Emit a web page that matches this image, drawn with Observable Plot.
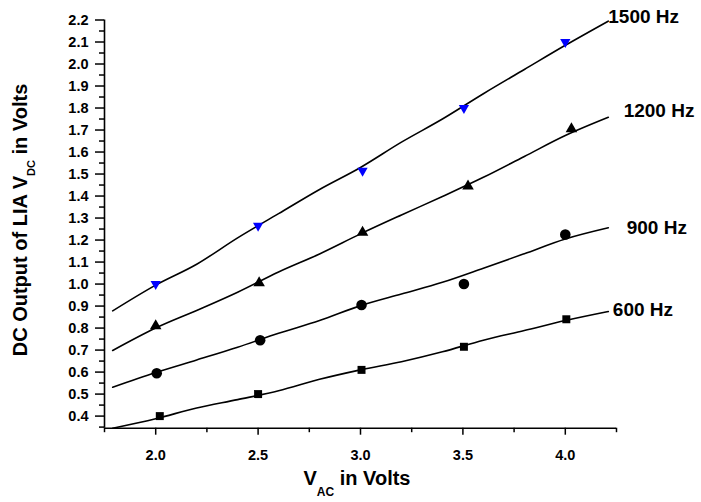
<!DOCTYPE html>
<html>
<head>
<meta charset="utf-8">
<script src="https://cdn.jsdelivr.net/npm/d3@7"></script>
<script src="https://cdn.jsdelivr.net/npm/@observablehq/plot@0.6"></script>
<style>
  html, body { margin: 0; padding: 0; background: #fff; }
  #chart svg { display: block; overflow: visible; }
</style>
</head>
<body>
<div id="chart"></div>
<script>
// ---------- data ----------
const seriesNames = ["1500 Hz", "1200 Hz", "900 Hz", "600 Hz"];

// measured points (markers)
const x1500 = [2.0, 2.5, 3.01, 3.505, 4.0];
const y1500 = [1.0, 1.265, 1.515, 1.80, 2.10];
const x1200 = [2.0, 2.505, 3.01, 3.525, 4.03];
const y1200 = [0.81, 1.005, 1.235, 1.445, 1.705];
const x900  = [2.005, 2.51, 3.005, 3.505, 4.0];
const y900  = [0.595, 0.745, 0.905, 1.0, 1.225];
const x600  = [2.02, 2.5, 3.005, 3.505, 4.005];
const y600  = [0.40, 0.50, 0.61, 0.715, 0.84];

// fitted curves (black lines)
const fitX    = [1.79, 2.0, 2.2, 2.4, 2.6, 2.8, 3.0, 3.2, 3.4, 3.6, 3.8, 4.0, 4.21];
const fit1500 = [0.878, 0.995, 1.09, 1.21, 1.32, 1.43, 1.53, 1.645, 1.75, 1.865, 1.975, 2.085, 2.195];
const fit1200 = [0.698, 0.80, 0.88, 0.963, 1.055, 1.137, 1.228, 1.314, 1.398, 1.485, 1.58, 1.675, 1.758];
const fit900  = [0.531, 0.598, 0.655, 0.713, 0.776, 0.834, 0.902, 0.955, 1.008, 1.072, 1.138, 1.205, 1.256];
const fit600  = [0.345, 0.388, 0.437, 0.475, 0.515, 0.567, 0.61, 0.647, 0.692, 0.745, 0.789, 0.834, 0.875];

// curve label anchors (data units)
const labelX = [4.21, 4.285, 4.30, 4.232];
const labelY = [2.212, 1.789, 1.257, 0.883];

// axes
const xTicks = [2.0, 2.5, 3.0, 3.5, 4.0];
const yTicks = [0.4, 0.5, 0.6, 0.7, 0.8, 0.9, 1.0, 1.1, 1.2, 1.3, 1.4, 1.5, 1.6, 1.7, 1.8, 1.9, 2.0, 2.1, 2.2];
const xDomain = [1.75, 4.25];
const yDomain = [0.345, 2.2];
const xTitleMain = "V", xTitleSub = "AC", xTitleRest = " in Volts";
const yTitleMain = "DC Output of LIA V", yTitleSub = "DC", yTitleRest = " in Volts";

// ---------- tables ----------
const pts = (xs, ys) => xs.map((x, i) => ({x, y: ys[i]}));
const fitTable = [fit1500, fit1200, fit900, fit600].flatMap((ys, k) =>
  fitX.map((x, i) => ({x, y: ys[i], s: seriesNames[k]})));
const labels = seriesNames.map((t, i) => ({x: labelX[i], y: labelY[i], t}));
const xMinor = d3.range(1.75, 4.26, 0.25).filter(v => !xTicks.some(t => Math.abs(t - v) < 1e-6));
const yMinor = d3.range(0.35, 2.2, 0.1);

const font = "'Liberation Sans', Arial, Helvetica, sans-serif";

const chart = Plot.plot({
  width: 701,
  height: 502,
  marginLeft: 104,
  marginRight: 85,
  marginTop: 19.5,
  marginBottom: 74.3,
  x: {domain: xDomain},
  y: {domain: yDomain},
  style: {fontFamily: font, fontWeight: "bold", background: "#fff", color: "#000", overflow: "visible"},
  marks: [
    Plot.axisY({ticks: yTicks, tickSize: 9, tickPadding: 7, tickFormat: d3.format(".1f"), fontSize: 14.5, fontWeight: "bold", strokeWidth: 1.5, label: null}),
    Plot.axisY({ticks: yMinor, tickSize: 5, tickFormat: () => "", strokeWidth: 1.5, label: null}),
    Plot.axisX({ticks: xTicks, tickSize: 7, tickPadding: 15, tickFormat: d3.format(".1f"), fontSize: 14.5, fontWeight: "bold", strokeWidth: 1.5, label: null}),
    Plot.axisX({ticks: xMinor, tickSize: 4.5, tickFormat: () => "", strokeWidth: 1.5, label: null}),
    Plot.ruleX([xDomain[0]], {y1: yDomain[0], y2: yDomain[1], strokeWidth: 1.6}),
    Plot.ruleY([yDomain[0]], {x1: xDomain[0], x2: xDomain[1], strokeWidth: 1.6}),
    Plot.line(fitTable, {x: "x", y: "y", z: "s", stroke: "#000", strokeWidth: 1.6, curve: "monotone-x"}),
    Plot.dot(pts(x600, y600), {x: "x", y: "y", symbol: "square", r: 4.5, fill: "#000"}),
    Plot.dot(pts(x900, y900), {x: "x", y: "y", symbol: "circle", r: 5.3, fill: "#000"}),
    Plot.dot(pts(x1200, y1200), {x: "x", y: "y", symbol: "triangle", r: 4.3, fill: "#000"}),
    Plot.dot(pts(x1500, y1500), {x: "x", y: "y", symbol: "triangle", r: 3.8, fill: "#0000ff", rotate: 180}),
    Plot.text(labels, {x: "x", y: "y", text: "t", textAnchor: "start", lineAnchor: "middle", fontSize: 19, fontWeight: "bold", fill: "#000"})
  ]
});

document.getElementById("chart").appendChild(chart);

// axis titles with subscripts
const svg = d3.select(chart);
const yt = svg.append("text")
  .attr("transform", "translate(27.3,220) rotate(-90)")
  .attr("text-anchor", "middle")
  .attr("font-family", font).attr("font-weight", "bold").attr("font-size", 20).attr("fill", "#000");
yt.append("tspan").text(yTitleMain);
yt.append("tspan").attr("font-size", 11).attr("dy", 7.5).text(yTitleSub);
yt.append("tspan").attr("dy", -7.5).text(yTitleRest);

const xt = svg.append("text")
  .attr("x", 357).attr("y", 485)
  .attr("text-anchor", "middle")
  .attr("font-family", font).attr("font-weight", "bold").attr("font-size", 20).attr("fill", "#000");
xt.append("tspan").text(xTitleMain);
xt.append("tspan").attr("font-size", 12).attr("dy", 11).text(xTitleSub);
xt.append("tspan").attr("dy", -11).text(xTitleRest);
</script>
</body>
</html>
